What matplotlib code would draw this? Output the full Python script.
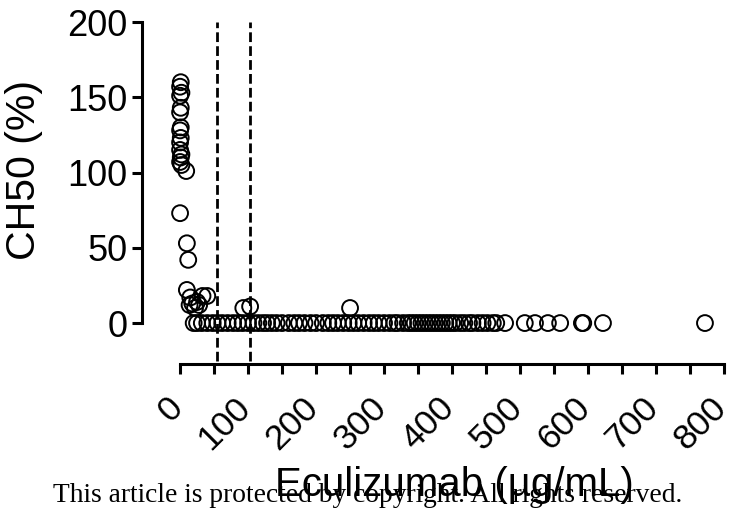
import matplotlib.pyplot as plt
import matplotlib.transforms as mtransforms
import numpy as np

plt.rcParams['font.family'] = ['Liberation Sans', 'DejaVu Sans']

# points above the baseline (eculizumab ug/mL, CH50 %)
x_high = [1, 0, 2, 0, 1, 0, 1, 0, 1, 0, 0, 2, 1, 0, 2, 9, 0, 10, 12,
          10, 15, 18, 22, 25, 33, 40, 28, 14, 93, 103, 250]
y_high = [160, 157, 153, 151, 143, 140, 130, 128, 123, 120, 115, 112, 110, 107, 105, 101, 73, 53, 42,
          22, 17, 13, 10, 14, 18, 18, 12, 12, 10, 11, 10]

# points with CH50 = 0
x_zero = [20, 25, 32, 40, 48, 55, 62, 70, 78, 85, 92, 100, 108, 115, 122, 128, 135, 142,
          150, 160, 168, 175, 183, 192, 200, 210, 218, 225, 232, 240, 248, 255, 262, 270,
          278, 285, 292, 300, 308, 315, 320, 328, 335, 340, 345, 350, 355, 360, 365, 370,
          375, 380, 385, 390, 395, 400, 405, 412, 418, 425, 430, 438, 445, 452, 460, 465,
          478, 507, 522, 541, 559, 591, 593, 622, 772]
y_zero = [0] * len(x_zero)

cutoffs = [54, 103]

fig = plt.figure(figsize=(7.32, 5.12), dpi=100)
ax = fig.add_axes([142/732, (512-364)/512, (724-142)/732, (364-22)/512])

ax.scatter(x_zero, y_zero, s=130, facecolors='none', edgecolors='black', linewidths=1.4, clip_on=False, zorder=3)
ax.scatter(x_high, y_high, s=130, facecolors='none', edgecolors='black', linewidths=1.4, clip_on=False, zorder=3)

ax.vlines(cutoffs, -25, 200, colors='black', linewidth=2, linestyles=(0, (3.5, 1.5)), zorder=2)

ax.set_xlim(-56, 800)
ax.set_ylim(-27.2, 200)
ax.spines['top'].set_visible(False)
ax.spines['right'].set_visible(False)
ax.spines['left'].set_bounds(0, 200)
ax.spines['bottom'].set_bounds(0, 800)
for s in ['left', 'bottom']:
    ax.spines[s].set_linewidth(2.2)

ax.set_yticks([0, 50, 100, 150, 200])
ax.set_xticks(np.arange(0, 801, 100))
ax.set_xticks(np.arange(50, 801, 100), minor=True)
ax.tick_params(axis='both', which='both', width=2.2, length=7.5, color='black')
ax.tick_params(axis='y', pad=3, labelsize=26)
ax.tick_params(axis='x', pad=12, labelsize=25.5)
shift = mtransforms.ScaledTranslation(0.09, 0, fig.dpi_scale_trans)
for lab in ax.get_xticklabels():
    lab.set_rotation(45)
    lab.set_ha('right')
    lab.set_transform(lab.get_transform() + shift)

ax.set_ylabel('CH50 (%)', fontsize=29.5)
ax.yaxis.set_label_coords(-0.170, (364-170)/342)
ax.set_xlabel('Eculizumab (µg/mL)', fontsize=29)
ax.xaxis.set_label_coords((454-142)/582, -(466-364)/342)

fig.text(53/732, (512-502)/512, 'This article is protected by copyright. All rights reserved.',
         family='Liberation Serif', fontsize=19.8, va='baseline', ha='left')

fig.savefig('out.png', dpi=100)
